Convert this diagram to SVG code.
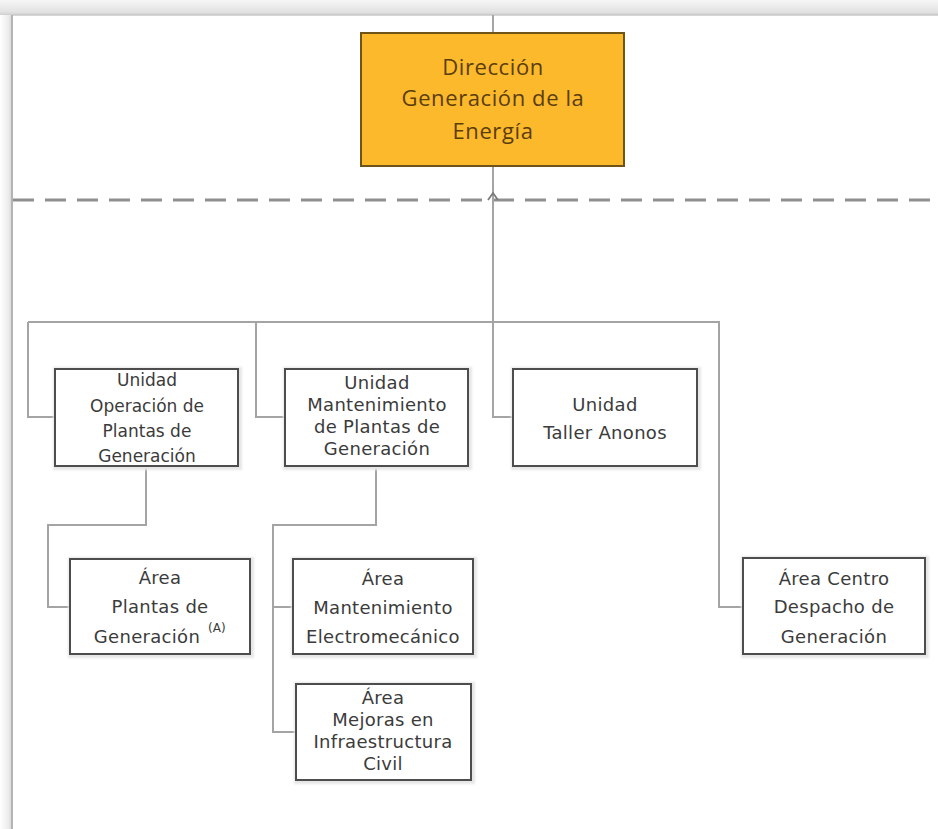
<svg xmlns="http://www.w3.org/2000/svg" width="938" height="829" viewBox="0 0 938 829">
  <defs>
    <linearGradient id="gTop" x1="0" y1="0" x2="0" y2="1">
      <stop offset="0" stop-color="#f6f6f6"/>
      <stop offset="0.8" stop-color="#e2e2e2"/>
      <stop offset="1" stop-color="#cfcfcf"/>
    </linearGradient>
    <linearGradient id="gLeft" x1="0" y1="0" x2="1" y2="0">
      <stop offset="0" stop-color="#ffffff"/>
      <stop offset="0.7" stop-color="#ececec"/>
      <stop offset="1" stop-color="#d4d4d4"/>
    </linearGradient>
    <filter id="soft" x="-10%" y="-10%" width="120%" height="120%">
      <feGaussianBlur stdDeviation="1.2"/>
    </filter>
  </defs>
  <style>
    .conn { fill: none; stroke: #a4a4a4; stroke-width: 2; }
    .box { fill: #ffffff; stroke: #4d4d4d; stroke-width: 2; }
    .shadow { fill: #e6e6e6; filter: url(#soft); }
    .main { fill: #fcb92b; stroke: #6e5418; stroke-width: 2; }
    .mt { font-family: "Open Sans", "Noto Sans", sans-serif; font-size: 22px; fill: #5a3d0c; text-anchor: middle; letter-spacing: 0.6px; }
    .t { font-family: "DejaVu Sans", "Liberation Sans", sans-serif; font-size: 18px; fill: #3b3b3b; text-anchor: middle; letter-spacing: 0.3px; }
    .ts { font-family: "DejaVu Sans", "Liberation Sans", sans-serif; font-size: 17px; fill: #3b3b3b; text-anchor: middle; }
    .sup { font-family: "DejaVu Sans", "Liberation Sans", sans-serif; font-size: 12px; fill: #3b3b3b; }
  </style>

  <!-- page background and frame -->
  <rect x="0" y="0" width="938" height="829" fill="#ffffff"/>
  <rect x="0" y="0" width="938" height="15" fill="url(#gTop)"/>
  <rect x="0" y="15" width="12" height="814" fill="url(#gLeft)"/>
  <line x1="12" y1="15" x2="938" y2="15" stroke="#c8c8c8" stroke-width="1.5"/>
  <line x1="12" y1="15" x2="12" y2="829" stroke="#b4b4b4" stroke-width="2"/>

  <!-- dashed boundary -->
  <line x1="13" y1="200" x2="938" y2="200" stroke="#8f8f8f" stroke-width="3" stroke-dasharray="21 11"/>

  <g id="connectors">
    <path class="conn" d="M493 15 V33"/>
    <path class="conn" d="M493 166 V417 H513"/>
    <path class="conn" d="M28 322 H719 V607 H743"/>
    <path class="conn" d="M28 322 V417 H55"/>
    <path class="conn" d="M256 322 V417 H285"/>
    <path class="conn" d="M146 466 V525 H48 V607 H70"/>
    <path class="conn" d="M376 466 V525 H273 V732 H296"/>
    <path class="conn" d="M273 607 H293"/>
    <path fill="none" stroke="#7a7a7a" stroke-width="1.8" d="M488 200 L493 193 L498 200"/>
  </g>

  <g id="n-direccion">
    <rect class="main" x="361" y="33" width="263" height="133"/>
    <text class="mt" x="493" y="75">Dirección</text>
    <text class="mt" x="493" y="106">Generación de la</text>
    <text class="mt" x="493" y="139">Energía</text>
  </g>

  <g id="n-operacion">
    <rect class="shadow" x="53" y="367" width="189" height="103"/>
    <rect class="box" x="55" y="369" width="183" height="97"/>
    <text class="ts" x="147" y="386">Unidad</text>
    <text class="ts" x="147" y="412">Operación de</text>
    <text class="ts" x="147" y="437">Plantas de</text>
    <text class="ts" x="147" y="462">Generación</text>
  </g>

  <g id="n-mantenimiento">
    <rect class="shadow" x="283" y="367" width="189" height="103"/>
    <rect class="box" x="285" y="369" width="183" height="97"/>
    <text class="t" x="377" y="389">Unidad</text>
    <text class="t" x="377" y="411">Mantenimiento</text>
    <text class="t" x="377" y="433">de Plantas de</text>
    <text class="t" x="377" y="455">Generación</text>
  </g>

  <g id="n-taller">
    <rect class="shadow" x="511" y="367" width="190" height="103"/>
    <rect class="box" x="513" y="369" width="184" height="97"/>
    <text class="t" x="605" y="411">Unidad</text>
    <text class="t" x="605" y="439">Taller Anonos</text>
  </g>

  <g id="n-area-plantas">
    <rect class="shadow" x="68" y="557" width="186" height="101"/>
    <rect class="box" x="70" y="559" width="180" height="95"/>
    <text class="t" x="160" y="584">Área</text>
    <text class="t" x="160" y="613">Plantas de</text>
    <text class="t" x="147" y="643">Generación</text>
    <text class="sup" x="208" y="632">(A)</text>
  </g>

  <g id="n-area-electro">
    <rect class="shadow" x="291" y="557" width="186" height="101"/>
    <rect class="box" x="293" y="559" width="180" height="95"/>
    <text class="t" x="383" y="585">Área</text>
    <text class="t" x="383" y="614">Mantenimiento</text>
    <text class="t" x="383" y="643">Electromecánico</text>
  </g>

  <g id="n-area-mejoras">
    <rect class="shadow" x="294" y="682" width="181" height="102"/>
    <rect class="box" x="296" y="684" width="175" height="96"/>
    <text class="t" x="383" y="704">Área</text>
    <text class="t" x="383" y="726">Mejoras en</text>
    <text class="t" x="383" y="748">Infraestructura</text>
    <text class="t" x="383" y="770">Civil</text>
  </g>

  <g id="n-area-despacho">
    <rect class="shadow" x="741" y="556" width="188" height="102"/>
    <rect class="box" x="743" y="558" width="182" height="96"/>
    <text class="t" x="834" y="585">Área Centro</text>
    <text class="t" x="834" y="613">Despacho de</text>
    <text class="t" x="834" y="643">Generación</text>
  </g>
</svg>
